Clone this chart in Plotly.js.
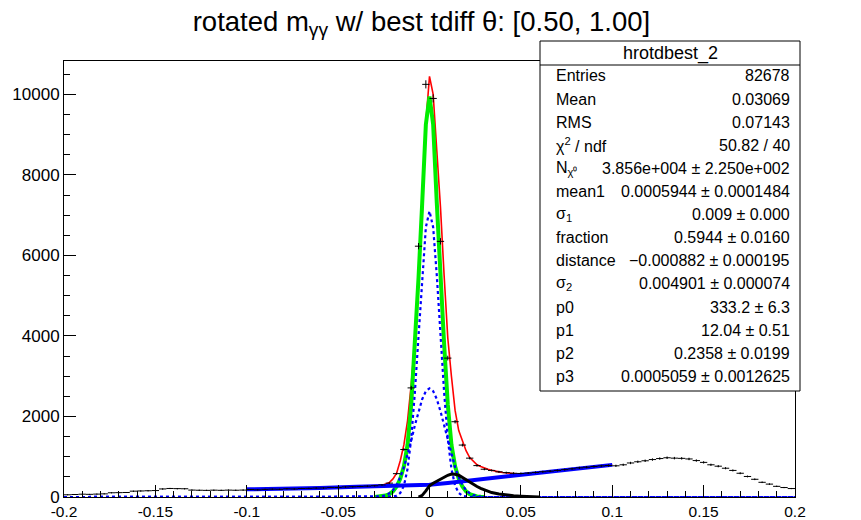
<!DOCTYPE html>
<html>
<head>
<meta charset="utf-8">
<script src="https://cdn.plot.ly/plotly-3.0.1.min.js"></script>
<style>html,body{margin:0;padding:0;background:#fff;}#chart{width:861px;height:520px;}</style>
</head>
<body>
<div id="chart"></div>
<script>
// ---- histogram definition ----
const HIST_MIN = -0.2, HIST_MAX = 0.2, NBINS = 100;
// bin contents (black points), left to right
const counts = [
  55, 62, 70, 66, 72, 78, 105, 108, 112, 145,
  150, 155, 160, 200, 212, 208, 205, 172, 168, 165,
  170, 166, 171, 168, 172, 185, 178, 190, 195, 192,
  205, 200, 212, 215, 222, 225, 238, 236, 250, 255,
  262, 270, 280, 300, 345, 580, 1180, 2710, 6230, 10250,
  9900, 6350, 3450, 1870, 1290, 965, 780, 690, 660, 625,
  605, 590, 585, 595, 610, 628, 642, 660, 680, 700,
  725, 740, 758, 772, 782, 775, 800, 845, 875, 900,
  930, 955, 975, 965, 960, 945, 905, 860, 800, 765,
  715, 660, 590, 510, 440, 365, 320, 265, 235, 210
];

// ---- signal curves (green total, blue dotted components) ----
const sigX = [-0.030,-0.028,-0.026,-0.024,-0.022,-0.020,-0.018,-0.016,-0.014,-0.012,-0.010,-0.008,-0.006,-0.004,-0.002,0,
               0.002,0.004,0.006,0.008,0.010,0.012,0.014,0.016,0.018,0.020,0.022,0.024,0.026,0.028,0.030];
const signalTotal = [0,5,15,35,70,140,260,450,760,1300,2300,3800,5450,7300,9250,9950,
                     9250,7300,5450,3800,2300,1300,760,450,260,140,70,35,15,5,0];
const gausNarrow = [0,0,0,0,2,8,30,100,280,700,1450,2600,4000,5500,6700,7100,
                    6700,5500,4000,2600,1450,700,280,100,30,8,2,0,0,0,0];
const gausWide = [0,8,20,45,90,170,300,490,740,1050,1400,1780,2130,2430,2630,2700,
                  2630,2430,2130,1780,1400,1050,740,490,300,170,90,45,20,8,0];

// ---- total fit (red) ----
const redX = [-0.1,-0.09,-0.08,-0.07,-0.06,-0.05,-0.04,-0.03,
  -0.026,-0.024,-0.022,-0.020,-0.018,-0.016,-0.014,-0.012,-0.010,-0.008,-0.006,-0.004,-0.002,
  0,
  0.002,0.004,0.006,0.008,0.010,0.012,0.014,0.016,0.018,0.020,0.022,0.024,0.026,0.028,0.030,
  0.032,0.034,0.036,0.038,0.040,0.042,0.044,0.046,0.048,0.050,
  0.055,0.06,0.07,0.08,0.09,0.1];
const redY = [190,195,200,210,222,238,254,272,
  290,320,360,450,590,900,1300,1900,2800,3900,5300,7000,9300,
  10450,
  10000,8600,7200,5500,3950,3000,2150,1650,1380,1150,980,880,800,760,720,
  690,665,640,625,610,600,590,575,568,565,
  580,608,655,710,755,800];

// ---- background (thick blue) ----
const bgX = [-0.1,-0.08,-0.06,-0.04,-0.02,0,0.01,0.02,0.03,0.04,0.05,0.06,0.07,0.08,0.09,0.1];
const bgY = [190,200,222,254,288,307,350,398,452,505,555,605,656,708,755,798];

// ---- extra component (thick black) ----
const blkX = [-0.006,-0.004,-0.002,0,0.002,0.004,0.006,0.008,0.010,0.012,0.014,0.016,0.018,0.020,
  0.022,0.024,0.026,0.028,0.030,0.032,0.034,0.038,0.042,0.046,0.050,0.055,0.060];
const blkY = [0,40,150,280,340,395,445,495,540,570,565,540,480,430,
  370,310,260,215,175,140,110,75,50,32,20,8,0];

// ---- axis tick labels ----
const xTickVals = [-0.2,-0.15,-0.1,-0.05,0,0.05,0.1,0.15,0.2];
const xTickText = ["-0.2","-0.15","-0.1","-0.05","0","0.05","0.1","0.15","0.2"];
const yTickVals = [0,2000,4000,6000,8000,10000];
const yTickText = ["0","2000","4000","6000","8000","10000"];

// ---- stats box ----
const statsTitle = "hrotdbest_2";
const statLabels = ["Entries","Mean","RMS","χ<sup>2</sup> / ndf","N<sub>χ⁰</sub>","mean1","σ<sub>1</sub>",
  "fraction","distance","σ<sub>2</sub>","p0","p1","p2","p3"];
const statValues = ["82678","0.03069","0.07143","50.82 / 40","3.856e+004 ± 2.250e+002",
  "0.0005944 ± 0.0001484","0.009 ± 0.000","0.5944 ± 0.0160","−0.000882 ± 0.000195",
  "0.004901 ± 0.000074","333.2 ± 6.3","12.04 ± 0.51","0.2358 ± 0.0199","0.0005059 ± 0.0012625"];

const titleText = "rotated m<sub>γγ</sub> w/ best tdiff θ: [0.50, 1.00]";

// bin centres
const binW = (HIST_MAX - HIST_MIN) / NBINS;
const centers = counts.map((_, i) => HIST_MIN + (i + 0.5) * binW);

const FONT = "Liberation Sans, Arial, sans-serif";

const traces = [
  {x: redX, y: redY, mode: "lines", line: {color: "#ff0000", width: 1.6}, hoverinfo: "skip"},
  {x: sigX, y: signalTotal, mode: "lines", line: {color: "#00ee00", width: 4}, hoverinfo: "skip"},
  {x: [HIST_MIN].concat(sigX, [HIST_MAX]), y: [0].concat(gausNarrow, [0]), mode: "lines",
   line: {color: "#0000ff", width: 2.2, dash: "dot"}, hoverinfo: "skip"},
  {x: [HIST_MIN].concat(sigX, [HIST_MAX]), y: [0].concat(gausWide, [0]), mode: "lines",
   line: {color: "#0000ff", width: 2.2, dash: "dot"}, hoverinfo: "skip"},
  {x: bgX, y: bgY, mode: "lines", line: {color: "#0000ff", width: 4}, hoverinfo: "skip"},
  {x: blkX, y: blkY, mode: "lines", line: {color: "#000000", width: 3}, hoverinfo: "skip"},
  {x: centers, y: counts, mode: "markers", marker: {size: 1, color: "#000"},
   error_y: {type: "sqrt", color: "#000", thickness: 1, width: 0},
   error_x: {type: "constant", value: binW / 2, color: "#000", thickness: 1, width: 0},
   hoverinfo: "skip"}
];

// pixel helpers for the stats box (paper coords of the plot area)
const L = 64, R = 795, T = 61, B = 497;
const px = v => (v - L) / (R - L);
const py = v => (B - v) / (B - T);

const shapes = [
  {type: "rect", xref: "paper", yref: "paper", x0: px(540), x1: px(800), y0: py(391), y1: py(41),
   line: {color: "#000", width: 1}, fillcolor: "#fff", layer: "above"},
  {type: "line", xref: "paper", yref: "paper", x0: px(540), x1: px(800), y0: py(65), y1: py(65),
   line: {color: "#000", width: 1}, layer: "above"}
];

const annotations = [
  {xref: "paper", yref: "paper", x: px(670), y: py(53), text: statsTitle, showarrow: false,
   xanchor: "center", yanchor: "middle", font: {family: FONT, size: 18, color: "#000"}}
];
statLabels.forEach((lab, i) => {
  const yy = py(76 + i * 23.1);
  annotations.push({xref: "paper", yref: "paper", x: px(554), y: yy, text: lab, showarrow: false,
    xanchor: "left", yanchor: "middle", font: {family: FONT, size: 16, color: "#000"}});
  annotations.push({xref: "paper", yref: "paper", x: px(792), y: yy, text: statValues[i], showarrow: false,
    xanchor: "right", yanchor: "middle", font: {family: FONT, size: 16, color: "#000"}});
});

const layout = {
  width: 861, height: 520,
  margin: {l: L, r: 861 - R, t: T, b: 520 - B, pad: 0},
  paper_bgcolor: "#fff", plot_bgcolor: "#fff",
  showlegend: false,
  title: {text: titleText, x: 421 / 861, xanchor: "center", xref: "paper", y: 1 - 21 / 520, yanchor: "middle",
          yref: "container", font: {family: FONT, size: 27.5, color: "#000"}},
  xaxis: {range: [HIST_MIN, HIST_MAX], tickvals: xTickVals, ticktext: xTickText, ticks: "inside", ticklen: 12,
          tickwidth: 1, tickcolor: "#000", showline: true, linecolor: "#000", linewidth: 1, mirror: true,
          showgrid: false, zeroline: false, tickfont: {family: FONT, size: 15.5, color: "#000"},
          minor: {dtick: 0.01, ticks: "inside", ticklen: 6, tickcolor: "#000", tickwidth: 1, showgrid: false}},
  yaxis: {range: [0, 10830], tickvals: yTickVals, ticktext: yTickText, ticks: "inside", ticklen: 12,
          tickwidth: 1, tickcolor: "#000", showline: true, linecolor: "#000", linewidth: 1, mirror: true,
          showgrid: false, zeroline: false, tickfont: {family: FONT, size: 17, color: "#000"},
          minor: {dtick: 500, ticks: "inside", ticklen: 6, tickcolor: "#000", tickwidth: 1, showgrid: false}},
  shapes: shapes,
  annotations: annotations
};

Plotly.newPlot("chart", traces, layout, {displayModeBar: false, staticPlot: true});
</script>
</body>
</html>
